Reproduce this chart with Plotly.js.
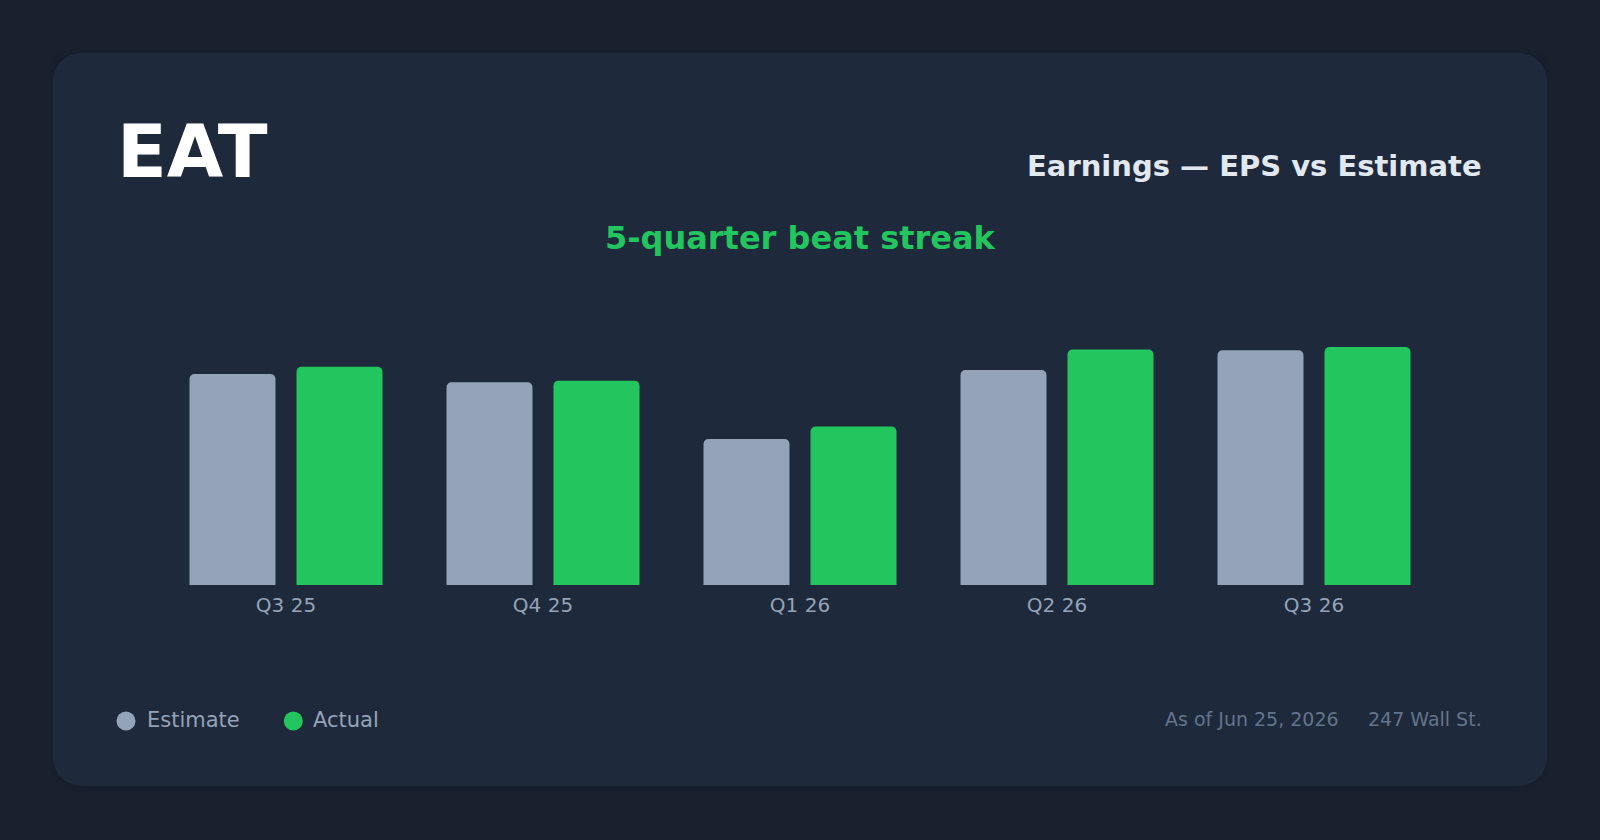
<!DOCTYPE html>
<html>
<head>
<meta charset="utf-8">
<script src="https://cdn.plot.ly/plotly-3.0.1.min.js"></script>
<style>
  html, body { margin:0; padding:0; background:#19212f; width:1600px; height:840px; overflow:hidden; }
  #card { position:absolute; left:53px; top:53px; width:1494px; height:733px; border-radius:28px; background:#1e293b; box-shadow:0 0 6px rgba(0,0,0,0.15); }
  #chart { position:absolute; left:0; top:0; width:1600px; height:840px; }
</style>
</head>
<body>
<div id="card"></div>
<div id="chart"></div>
<script>
// Data
const ticker = "EAT";
const chartTitle = "Earnings — EPS vs Estimate";
const subtitle = "5-quarter beat streak";
const quarters = ["Q3 25", "Q4 25", "Q1 26", "Q2 26", "Q3 26"];
const estimateEPS = [2.57, 2.47, 1.78, 2.62, 2.86];
const actualEPS = [2.66, 2.49, 1.93, 2.87, 2.90];
const seriesNames = ["Estimate", "Actual"];
const asOfText = "As of Jun 25, 2026";
const sourceText = "247 Wall St.";

// Layout helpers (pixel -> paper)
const W = 1600, H = 840;
const px = x => x / W;
const py = y => 1 - y / H;

const FONT = "DejaVu Sans, Verdana, sans-serif";
const EST_COLOR = "#94a3b8";
const ACT_COLOR = "#22c55e";

const barW = 86 / 257;
const traces = [
  { type: "bar", name: seriesNames[0], x: quarters, y: estimateEPS,
    width: barW, offset: -(193 / 2) / 257,
    marker: { color: EST_COLOR, cornerradius: 5 }, hoverinfo: "none" },
  { type: "bar", name: seriesNames[1], x: quarters, y: actualEPS,
    width: barW, offset: (21 / 2) / 257,
    marker: { color: ACT_COLOR, cornerradius: 5 }, hoverinfo: "none" }
];

const plotTop = 585 - 3.2 * 82.07;
const layout = {
  width: W, height: H,
  margin: { l: 0, r: 0, t: 0, b: 0, pad: 0 },
  paper_bgcolor: "rgba(0,0,0,0)",
  plot_bgcolor: "rgba(0,0,0,0)",
  showlegend: false,
  barmode: "group",
  font: { family: FONT },
  xaxis: {
    domain: [px(157.5), px(1442.5)],
    type: "category",
    showgrid: false, zeroline: false, showline: false, ticks: "",
    ticklabelstandoff: 6,
    tickfont: { family: FONT, size: 20, color: EST_COLOR },
    automargin: false, fixedrange: true
  },
  yaxis: {
    domain: [py(585), py(plotTop)],
    range: [0, 3.2],
    showgrid: false, zeroline: false, showline: false, showticklabels: false, ticks: "",
    automargin: false, fixedrange: true
  },
  shapes: [
    { type: "circle", xref: "paper", yref: "paper", x0: px(116.5), x1: px(135.5), y0: py(730.5), y1: py(711.5), fillcolor: EST_COLOR, line: { width: 0 } },
    { type: "circle", xref: "paper", yref: "paper", x0: px(283.8), x1: px(302.8), y0: py(730.5), y1: py(711.5), fillcolor: ACT_COLOR, line: { width: 0 } }
  ],
  annotations: [
    { text: ticker, xref: "paper", yref: "paper", x: px(115), y: py(151), xanchor: "left", yanchor: "middle", showarrow: false,
      font: { family: FONT, size: 73, color: "#ffffff", weight: 700 } },
    { text: chartTitle, xref: "paper", yref: "paper", x: px(1484), y: py(166), xanchor: "right", yanchor: "middle", showarrow: false,
      font: { family: FONT, size: 29, color: "#e2e8f0", weight: 700 } },
    { text: subtitle, xref: "paper", yref: "paper", x: px(800), y: py(238), xanchor: "center", yanchor: "middle", showarrow: false,
      font: { family: FONT, size: 32, color: ACT_COLOR, weight: 700 } },
    { text: seriesNames[0], xref: "paper", yref: "paper", x: px(145), y: py(720), xanchor: "left", yanchor: "middle", showarrow: false,
      font: { family: FONT, size: 21, color: EST_COLOR } },
    { text: seriesNames[1], xref: "paper", yref: "paper", x: px(311), y: py(720), xanchor: "left", yanchor: "middle", showarrow: false,
      font: { family: FONT, size: 21, color: EST_COLOR } },
    { text: asOfText, xref: "paper", yref: "paper", x: px(1341), y: py(719), xanchor: "right", yanchor: "middle", showarrow: false,
      font: { family: FONT, size: 19, color: "#64748b" } },
    { text: sourceText, xref: "paper", yref: "paper", x: px(1484), y: py(719), xanchor: "right", yanchor: "middle", showarrow: false,
      font: { family: FONT, size: 19, color: "#64748b" } }
  ]
};

Plotly.newPlot("chart", traces, layout, { displayModeBar: false, staticPlot: true });
</script>
</body>
</html>
